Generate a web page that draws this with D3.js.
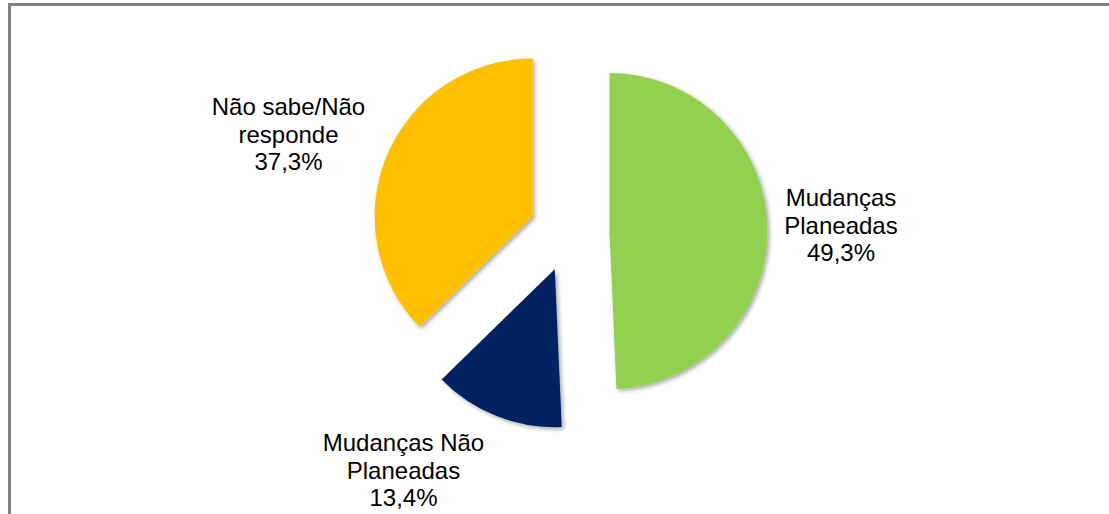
<!DOCTYPE html>
<html>
<head>
<meta charset="utf-8">
<script src="https://cdn.jsdelivr.net/npm/d3@7"></script>
<style>
  html, body { margin: 0; padding: 0; background: #fff; }
  svg { display: block; }
  text { font-family: "Liberation Sans", Arial, sans-serif; fill: #000; }
</style>
</head>
<body>
<svg id="chart" width="1109" height="514"></svg>
<script>
// Categories, in drawing order (clockwise from 12 o'clock)
const categories = ["Mudanças Planeadas", "Mudanças Não Planeadas", "Não sabe/Não responde"];
// Label lines (without the percentage)
const labelLines = [["Mudanças", "Planeadas"], ["Mudanças Não", "Planeadas"], ["Não sabe/Não", "responde"]];
// Share of answers, %
const values = [49.3, 13.4, 37.3];
const colors = ["#92D050", "#002060", "#FFC000"];

const W = 1109, H = 514;
const cx = 569.5, cy = 232;
const radius = 158;
const explode = 40;
const fontSize = 24;
const lineH = 27.5;

// Label anchor offsets from the pie centre (centre of the middle line)
const labelOffset = [[271.5, -7], [-166, 238], [-281, -98]];

const svg = d3.select("#chart");

// Frame: top and left edges
svg.append("path")
  .attr("d", `M9.5,${H} V4.5 H${W}`)
  .attr("fill", "none")
  .attr("stroke", "#808080")
  .attr("stroke-width", 3);

const defs = svg.append("defs");
const f = defs.append("filter").attr("id", "shadow")
  .attr("x", "-10%").attr("y", "-10%").attr("width", "130%").attr("height", "130%");
f.append("feDropShadow")
  .attr("dx", 2).attr("dy", 2).attr("stdDeviation", 2)
  .attr("flood-color", "#000").attr("flood-opacity", 0.35);

const pie = d3.pie().sort(null).value(d => d)(values);
const arc = d3.arc().innerRadius(0).outerRadius(radius);

const g = svg.append("g").attr("transform", `translate(${cx},${cy})`);

g.selectAll("path.slice")
  .data(pie)
  .join("path")
  .attr("class", "slice")
  .attr("d", arc)
  .attr("fill", (d, i) => colors[i])
  .attr("filter", "url(#shadow)")
  .attr("transform", d => {
    const a = (d.startAngle + d.endAngle) / 2;
    return `translate(${explode * Math.sin(a)},${-explode * Math.cos(a)})`;
  });

const fmt = v => d3.format(".1f")(v).replace(".", ",") + "%";

const labels = g.selectAll("text.lbl")
  .data(pie)
  .join("text")
  .attr("class", "lbl")
  .attr("text-anchor", "middle")
  .attr("font-size", fontSize)
  .attr("transform", (d, i) => `translate(${labelOffset[i][0]},${labelOffset[i][1]})`);

labels.each(function(d, i) {
  const lines = labelLines[i].concat([fmt(values[i])]);
  const t = d3.select(this);
  lines.forEach((s, k) => {
    t.append("tspan")
      .attr("x", 0)
      .attr("y", (k - (lines.length - 1) / 2) * lineH + fontSize * 0.36)
      .text(s);
  });
});
</script>
</body>
</html>
